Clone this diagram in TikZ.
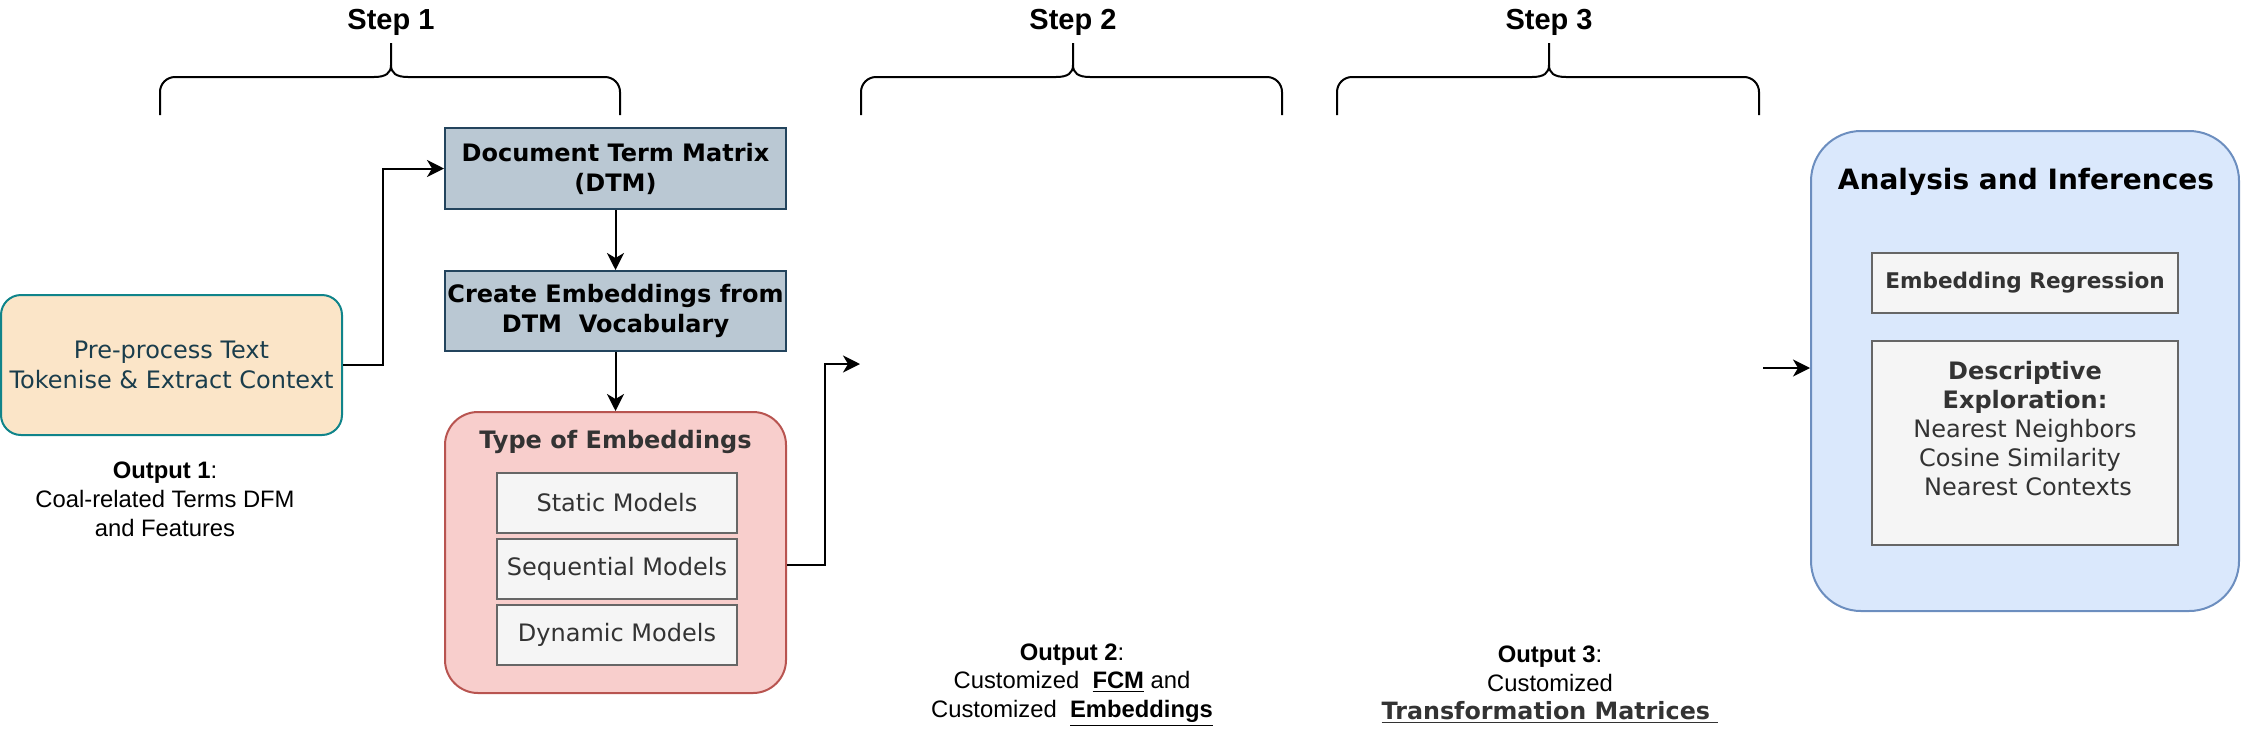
\documentclass[tikz,border=0pt]{standalone}
\usepackage{fontspec}
\setmainfont{Liberation Sans}
\newfontfamily\vf{DejaVu Sans}
\usetikzlibrary{arrows.meta}
\definecolor{preFill}{HTML}{FBE5C8}
\definecolor{preDraw}{HTML}{10848A}
\definecolor{preText}{HTML}{1A3D4C}
\definecolor{dtmFill}{HTML}{BAC8D3}
\definecolor{dtmDraw}{HTML}{23445D}
\definecolor{toeFill}{HTML}{F8CECC}
\definecolor{toeDraw}{HTML}{B85450}
\definecolor{grFill}{HTML}{F5F5F5}
\definecolor{grDraw}{HTML}{666666}
\definecolor{grText}{HTML}{333333}
\definecolor{anaFill}{HTML}{DAE8FC}
\definecolor{anaDraw}{HTML}{6C8EBF}
\newcommand\stepbrc[3]{%
  \draw[brc, rounded corners=7.5pt] (#2-17,77) -- (#1,77) -- (#1,115);
  \draw[brc, rounded corners=7.5pt] (#2+17,77) -- (#3,77) -- (#3,115);
  \draw[brc] (#2-17,77) .. controls (#2-5,77) and (#2,73) .. (#2,65) -- (#2,43);
  \draw[brc] (#2+17,77) .. controls (#2+5,77) and (#2,73) .. (#2,65);
}
\begin{document}
\begin{tikzpicture}[x=0.5pt,y=-0.5pt,
  box/.style={draw, line width=1pt, inner sep=0pt, align=center},
  arr/.style={line width=1pt, -{Stealth[length=8.5pt,width=8.5pt,inset=2.5pt]}},
  brc/.style={line width=1pt},
  vtxt/.style={font={\vf\fontsize{12}{15}\selectfont}, align=center},
  vbold/.style={font={\vf\bfseries\fontsize{12}{15}\selectfont}, align=center},
  steptxt/.style={font={\bfseries\fontsize{14.5}{17}\selectfont}},
  outtxt/.style={font={\fontsize{11.9}{14.3}\selectfont}, align=center},
  model/.style={box, draw=grDraw, fill=grFill, text=grText, minimum width=120pt, minimum height=30pt, vtxt},
]
\useasboundingbox (0,0) rectangle (2242,740);

% Step labels and braces
\node[steptxt] (s1) at (391,22) {Step 1};
\node[steptxt] (s2) at (1073,22) {Step 2};
\node[steptxt] (s3) at (1549,22) {Step 3};
\stepbrc{160}{391}{620}
\stepbrc{861}{1073}{1282}
\stepbrc{1337}{1549}{1759}

% Step 1 boxes
\node[box, draw=preDraw, fill=preFill, text=preText, rounded corners=10pt,
      minimum width=170.5pt, minimum height=70pt, vtxt] (pre) at (171.5,365)
      {Pre-process Text\\Tokenise \& Extract Context};
\node[outtxt, font={\fontsize{11.9}{14.5}\selectfont}] (out1) at (165,499)
      {\textbf{Output 1}:\\Coal-related Terms DFM\\and Features};

\node[box, draw=dtmDraw, fill=dtmFill, minimum width=170.5pt, minimum height=40.5pt, vbold] (dtm) at (615.5,168.5)
      {Document Term Matrix\\(DTM)};
\node[box, draw=dtmDraw, fill=dtmFill, minimum width=170.5pt, minimum height=40pt, vbold] (ce) at (615.5,311)
      {Create Embeddings from\\DTM\ \ Vocabulary};

\node[box, draw=toeDraw, fill=toeFill, rounded corners=16.5pt, minimum width=170.5pt, minimum height=140.5pt] (toe) at (615.5,552.5) {};
\node[vbold, text=grText] (toet) at (615.5,442) {Type of Embeddings};
\node[model] (m1) at (617,503) {Static Models};
\node[model] (m2) at (617,569) {Sequential Models};
\node[model] (m3) at (617,635) {Dynamic Models};

% Outputs 2 and 3
\node[outtxt] (out2) at (1072,685)
      {\textbf{Output 2}:\\Customized\ \ \textbf{\underline{FCM}} and\\Customized\ \ \textbf{\underline{Embeddings}}};
\node[outtxt] (out3) at (1550,685)
      {\textbf{Output 3}:\\Customized\\{\vf\bfseries\color{grText}\underline{Transformation Matrices\ }}};

% Analysis
\node[box, draw=anaDraw, fill=anaFill, rounded corners=25pt, minimum width=214pt, minimum height=240pt] (ana) at (2025,371) {};
\node[font={\vf\bfseries\fontsize{14}{17}\selectfont}] (anat) at (2026,182) {Analysis and Inferences};
\node[box, draw=grDraw, fill=grFill, text=grText, minimum width=153pt, minimum height=30pt,
      font={\vf\bfseries\fontsize{10.8}{13}\selectfont}] (er) at (2025,283) {Embedding Regression};
\node[box, draw=grDraw, fill=grFill, minimum width=153pt, minimum height=102pt] (de) at (2025,443) {};
\node[text=grText, align=center, font={\vf\fontsize{12}{14.5}\selectfont}] (det) at (2025,429)
      {\textbf{Descriptive}\\\textbf{Exploration:}\\Nearest Neighbors\\Cosine Similarity\hbox to 5pt{}\\\hbox to 3pt{}Nearest Contexts};

% Connectors
\coordinate (j1) at (383,0);
\draw[arr] (pre.east) -- (pre.east -| j1) -- (dtm.west -| j1) -- (dtm.west);
\draw[arr] (dtm.south) -- (ce.north);
\draw[arr] (ce.south) -- (toe.north);
\coordinate (t1) at (0,565);
\coordinate (j2) at (825,0);
\coordinate (o2) at (860,364);
\draw[arr] (toe.east |- t1) -- (j2 |- t1) -- (j2 |- o2) -- (o2);
\coordinate (o3) at (1763,368);
\draw[arr] (o3) -- (o3 -| ana.west);
\end{tikzpicture}
\end{document}
